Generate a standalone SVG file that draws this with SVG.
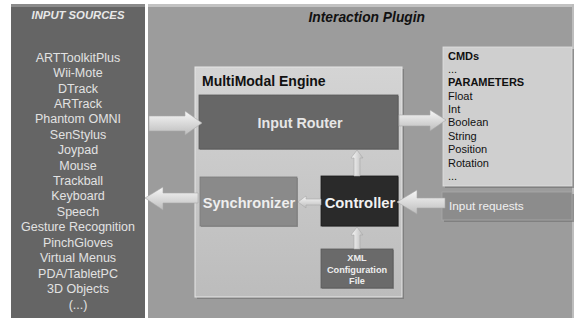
<svg xmlns="http://www.w3.org/2000/svg" width="579" height="320" viewBox="0 0 579 320">
<defs>
<linearGradient id="arr" x1="0" y1="0" x2="0" y2="1"><stop offset="0" stop-color="#f8f8f8"/><stop offset="1" stop-color="#bdbdbd"/></linearGradient>
<linearGradient id="arrv" x1="0" y1="0" x2="1" y2="0"><stop offset="0" stop-color="#f8f8f8"/><stop offset="1" stop-color="#bdbdbd"/></linearGradient>
<linearGradient id="eng" x1="0" y1="0" x2="0" y2="1"><stop offset="0" stop-color="#d4d4d4"/><stop offset="1" stop-color="#bcbcbc"/></linearGradient>
</defs>
<style>
.src{font-family:"Liberation Sans",Arial,sans-serif;font-size:12.5px;fill:#e2e2e2;text-anchor:middle}
.lbl{font-family:"Liberation Sans",Arial,sans-serif;font-weight:bold}
.par{font-family:"Liberation Sans",Arial,sans-serif;font-size:11px;fill:#111}
.arrow{fill:url(#arr);stroke:#a8a8a8;stroke-width:0.6}
.arrowv{fill:url(#arrv);stroke:#a8a8a8;stroke-width:0.6}
.shadow{fill:#6e6e6e;opacity:0.6}
</style>
<rect x="0" y="0" width="579" height="320" fill="#ffffff"/>
<g id="input-sources">
<rect x="11" y="4" width="134" height="314" fill="#656565"/>
<rect x="11" y="4" width="134" height="3" fill="#8a8a8a"/>
<text x="78" y="19" class="lbl" style="font-size:11.3px;font-style:italic;fill:#e8e8e8;text-anchor:middle">INPUT SOURCES</text>
<text class="src" x="78" y="61.5">ARTToolkitPlus</text>
<text class="src" x="78" y="77">Wii-Mote</text>
<text class="src" x="78" y="92.5">DTrack</text>
<text class="src" x="78" y="107.5">ARTrack</text>
<text class="src" x="78" y="123">Phantom  OMNI</text>
<text class="src" x="78" y="138.5">SenStylus</text>
<text class="src" x="78" y="153.5">Joypad</text>
<text class="src" x="78" y="169.5">Mouse</text>
<text class="src" x="78" y="184.5">Trackball</text>
<text class="src" x="78" y="200">Keyboard</text>
<text class="src" x="78" y="215.5">Speech</text>
<text class="src" x="78" y="231">Gesture Recognition</text>
<text class="src" x="78" y="246.5">PinchGloves</text>
<text class="src" x="78" y="261.5">Virtual Menus</text>
<text class="src" x="78" y="277.5">PDA/TabletPC</text>
<text class="src" x="78" y="292.5">3D Objects</text>
<text class="src" x="78" y="308.5">(...)</text>
</g>
<g id="interaction-plugin">
<rect x="148" y="4" width="426" height="314" fill="#9c9c9c"/>
<rect x="148" y="4" width="426" height="3" fill="#c2c2c2"/>
<rect x="572" y="4" width="2" height="314" fill="#bdbdbd"/>
<text x="425" y="21.5" class="lbl" style="font-size:13.8px;font-style:italic;fill:#111;text-anchor:end">Interaction Plugin</text>
</g>
<g id="multimodal-engine">
<rect x="197" y="69" width="207" height="230" class="shadow"/>
<rect x="195" y="67" width="207" height="230" fill="url(#eng)" stroke="#e6e6e6" stroke-width="1"/>
<text x="202" y="85.5" class="lbl" style="font-size:14px;fill:#111">MultiModal Engine</text>
</g>
<g id="input-router">
<rect x="200" y="96" width="199" height="54" class="shadow"/>
<rect x="199" y="95" width="199" height="54" fill="#676767" stroke="#5a5a5a" stroke-width="0.8"/>
<text x="300" y="127.5" class="lbl" style="font-size:14.3px;fill:#e6e6e6;text-anchor:middle">Input Router</text>
</g>
<g id="synchronizer">
<rect x="201" y="178" width="97" height="49" class="shadow"/>
<rect x="200" y="177" width="97" height="49" fill="#8a8a8a" stroke="#7a7a7a" stroke-width="0.8"/>
<text x="249" y="207.5" class="lbl" style="font-size:14.6px;fill:#eeeeee;text-anchor:middle">Synchronizer</text>
</g>
<g id="controller">
<rect x="322" y="177" width="77" height="50" class="shadow"/>
<rect x="321" y="176" width="77" height="50" fill="#2a2a2a" stroke="#1a1a1a" stroke-width="0.8"/>
<text x="360" y="207.5" class="lbl" style="font-size:14.8px;fill:#f2f2f2;text-anchor:middle">Controller</text>
</g>
<g id="xml-config">
<rect x="322" y="250" width="72" height="39" class="shadow"/>
<rect x="321" y="249" width="72" height="39" fill="#6a6a6a" stroke="#5a5a5a" stroke-width="0.8"/>
<text x="357" y="261" class="lbl" style="font-size:9.2px;fill:#eeeeee;text-anchor:middle">XML</text>
<text x="357" y="272.5" class="lbl" style="font-size:9.2px;fill:#eeeeee;text-anchor:middle">Configuration</text>
<text x="357" y="284" class="lbl" style="font-size:9.2px;fill:#eeeeee;text-anchor:middle">File</text>
</g>
<g id="cmds">
<rect x="445" y="49" width="129" height="139" class="shadow"/>
<rect x="443" y="47" width="129" height="139" fill="#cfcfcf" stroke="#e2e2e2" stroke-width="0.8"/>
<text class="par lbl" x="448" y="60">CMDs</text>
<text class="par" x="448" y="73">...</text>
<text class="par lbl" x="448" y="86">PARAMETERS</text>
<text class="par" x="448" y="99.5">Float</text>
<text class="par" x="448" y="112.5">Int</text>
<text class="par" x="448" y="125.5">Boolean</text>
<text class="par" x="448" y="140">String</text>
<text class="par" x="448" y="153">Position</text>
<text class="par" x="448" y="167">Rotation</text>
<text class="par" x="448" y="180">...</text>
</g>
<g id="input-requests">
<rect x="444" y="194" width="130" height="28" class="shadow"/>
<rect x="442" y="192" width="130" height="28" fill="#8c8c8c" stroke="#a8a8a8" stroke-width="0.8"/>
<text x="449" y="210" style="font-family:'Liberation Sans',Arial,sans-serif;font-size:11.8px;fill:#f0f0f0">Input requests</text>
</g>
<g id="connectors">
<path class="arrow" d="M149,116 L185,116 L185,111 L202,123 L185,135 L185,131 L149,131 Z"/>
<path class="arrow" d="M399,115 L430,115 L430,110 L446,120 L430,131 L430,126 L399,126 Z"/>
<path class="arrow" d="M445,198 L417,198 L417,190 L397,202 L417,214 L417,208 L445,208 Z"/>
<path class="arrow" d="M198,193 L163,193 L163,187 L145,198 L163,210 L163,203 L198,203 Z"/>
<path class="arrow" d="M321,199 L306,199 L306,196 L298,202 L306,208 L306,205 L321,205 Z"/>
<path class="arrowv" d="M354,176 L354,158 L351,158 L357,150 L363,158 L360,158 L360,176 Z"/>
<path class="arrowv" d="M354,249 L354,235 L351,235 L357,227 L363,235 L360,235 L360,249 Z"/>
</g>
</svg>
